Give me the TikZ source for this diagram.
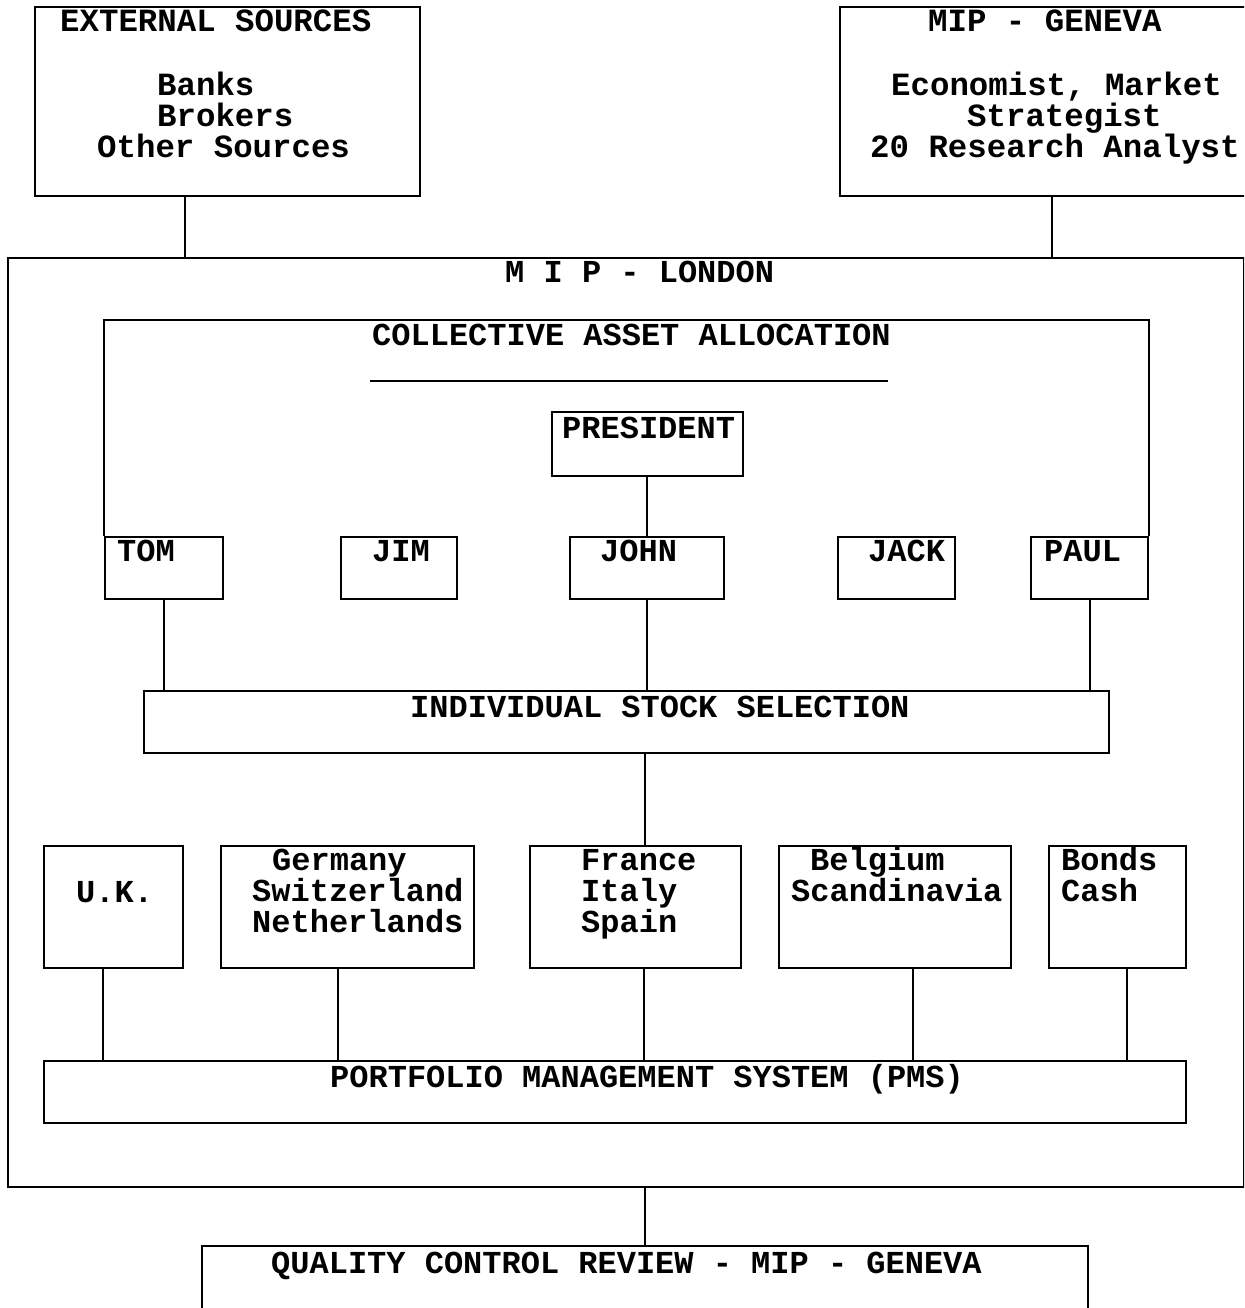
\documentclass[tikz,border=0pt]{standalone}
\usepackage{fontspec}
\newfontfamily\cf{Liberation Mono}[BoldFont={* Bold}]
\begin{document}
\begin{tikzpicture}[x=1pt,y=-1pt,
  box/.style={draw, line width=2.2pt, inner sep=0pt},
  conn/.style={line width=2.2pt},
  txt/.style={anchor=base west, inner sep=0pt, font=\cf\bfseries\fontsize{32}{32}\selectfont},
  bigtxt/.style={anchor=base west, inner sep=0pt, font=\cf\bfseries\fontsize{32.4}{32.4}\selectfont}]
\useasboundingbox (0,0) rectangle (1244,1308);
\clip (0,0) rectangle (1244,1308);
% boxes
\node[box, minimum width=385pt, minimum height=189pt] (ext) at (227.5,101.5) {};
\node[box, minimum width=406pt, minimum height=189pt] (gen) at (1043,101.5) {};
\node[box, minimum width=1236pt, minimum height=929pt] (lon) at (626,722.5) {};
\node[box, minimum width=191pt, minimum height=64pt] (pres) at (647.5,444) {};
\node[box, minimum width=118pt, minimum height=62pt] (tom) at (164,568) {};
\node[box, minimum width=116pt, minimum height=62pt] (jim) at (399,568) {};
\node[box, minimum width=154pt, minimum height=62pt] (john) at (647,568) {};
\node[box, minimum width=117pt, minimum height=62pt] (jack) at (896.5,568) {};
\node[box, minimum width=117pt, minimum height=62pt] (paul) at (1089.5,568) {};
\node[box, minimum width=965pt, minimum height=62pt] (iss) at (626.5,722) {};
\node[box, minimum width=139pt, minimum height=122pt] (uk) at (113.5,907) {};
\node[box, minimum width=253pt, minimum height=122pt] (ger) at (347.5,907) {};
\node[box, minimum width=211pt, minimum height=122pt] (fra) at (635.5,907) {};
\node[box, minimum width=232pt, minimum height=122pt] (bel) at (895,907) {};
\node[box, minimum width=137pt, minimum height=122pt] (bon) at (1117.5,907) {};
\node[box, minimum width=1142pt, minimum height=62pt] (pms) at (615,1092) {};
\node[box, minimum width=886pt, minimum height=90pt] (qc) at (645,1291) {};
% collective asset allocation frame
\coordinate (caatop) at (647,320);
\draw[conn] (tom.north west) |- (caatop) -| (paul.north east);
% connector x positions
\coordinate (x185) at (185,0);
\coordinate (x1052) at (1052,0);
\coordinate (x647) at (647,0);
\coordinate (x164) at (164,0);
\coordinate (x1090) at (1090,0);
\coordinate (x645) at (645,0);
\coordinate (x644) at (644,0);
\coordinate (x103) at (103,0);
\coordinate (x338) at (338,0);
\coordinate (x913) at (913,0);
\coordinate (x1127) at (1127,0);
\draw[conn] (ext.south -| x185) -- (lon.north -| x185);
\draw[conn] (gen.south -| x1052) -- (lon.north -| x1052);
\draw[conn] (pres.south -| x647) -- (john.north -| x647);
\draw[conn] (tom.south -| x164) -- (iss.north -| x164);
\draw[conn] (john.south -| x647) -- (iss.north -| x647);
\draw[conn] (paul.south -| x1090) -- (iss.north -| x1090);
\draw[conn] (iss.south -| x645) -- (fra.north -| x645);
\draw[conn] (uk.south -| x103) -- (pms.north -| x103);
\draw[conn] (ger.south -| x338) -- (pms.north -| x338);
\draw[conn] (fra.south -| x644) -- (pms.north -| x644);
\draw[conn] (bel.south -| x913) -- (pms.north -| x913);
\draw[conn] (bon.south -| x1127) -- (pms.north -| x1127);
\draw[conn] (lon.south -| x645) -- (qc.north -| x645);
% texts
\node[bigtxt] (t1) at (60,32) {EXTERNAL SOURCES};
\node[bigtxt] (t2) at (157,96) {Banks};
\node[bigtxt] (t3) at (157,127) {Brokers};
\node[bigtxt] (t4) at (97,158) {Other Sources};
\node[bigtxt] (t5) at (928,32) {MIP - GENEVA};
\node[bigtxt] (t6) at (891,96) {Economist, Market};
\node[bigtxt] (t7) at (967,127) {Strategist};
\node[bigtxt] (t8) at (870,158) {20 Research Analyst};
\node[txt] (t9) at (505,282) {M I P - LONDON};
\node[txt] (caat) at (372,345) {COLLECTIVE ASSET ALLOCATION};
\coordinate (ul1) at (370,381);
\coordinate (ul2) at (888,381);
\draw[conn] (ul1) -- (ul2);
\node[txt] (t10) at (562,438) {PRESIDENT};
\node[txt] (t11) at (117,561) {TOM};
\node[txt] (t12) at (372,561) {JIM};
\node[txt] (t13) at (600,561) {JOHN};
\node[txt] (t14) at (868,561) {JACK};
\node[txt] (t15) at (1044,561) {PAUL};
\node[txt] (t16) at (410,717) {INDIVIDUAL STOCK SELECTION};
\node[txt] (t17) at (76,902) {U.K.};
\node[txt] (t18) at (272,870) {Germany};
\node[txt] (t19) at (252,901) {Switzerland};
\node[txt] (t20) at (252,932) {Netherlands};
\node[txt] (t21) at (581,870) {France};
\node[txt] (t22) at (581,901) {Italy};
\node[txt] (t23) at (581,932) {Spain};
\node[txt] (t24) at (810,870) {Belgium};
\node[txt] (t25) at (791,901) {Scandinavia};
\node[txt] (t26) at (1061,870) {Bonds};
\node[txt] (t27) at (1061,901) {Cash};
\node[txt] (t28) at (330,1087) {PORTFOLIO MANAGEMENT SYSTEM (PMS)};
\node[txt] (t29) at (271,1273) {QUALITY CONTROL REVIEW - MIP - GENEVA};
\end{tikzpicture}
\end{document}
